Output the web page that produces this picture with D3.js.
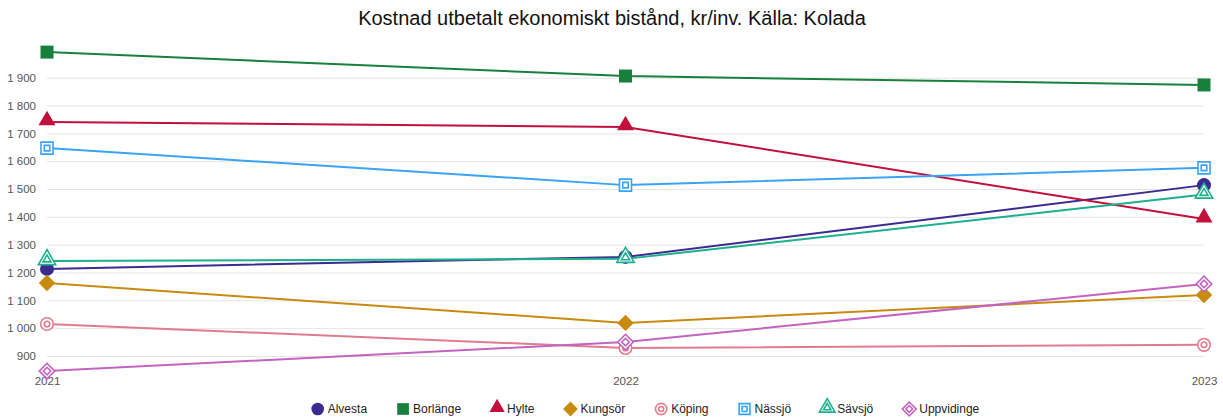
<!DOCTYPE html>
<html>
<head>
<meta charset="utf-8">
<script src="https://cdn.jsdelivr.net/npm/d3@7"></script>
<style>
  body { margin: 0; background: #fff; }
  text { font-family: Arial, "Liberation Sans", sans-serif; }
</style>
</head>
<body>
<div id="chart"></div>
<script>
// Data
const years = ["2021", "2022", "2023"];
const yTicks = [900, 1000, 1100, 1200, 1300, 1400, 1500, 1600, 1700, 1800, 1900];

const alvesta = [1213, 1256, 1514];
const borlange = [1992, 1906, 1874];
const hylte = [1741, 1723, 1392];
const kungsor = [1162, 1019, 1119];
const koping = [1015, 929, 940];
const nassjo = [1647, 1514, 1576];
const savsjo = [1241, 1249, 1480];
const uppvidinge = [846, 950, 1159];

const seriesNames = ["Alvesta", "Borlänge", "Hylte", "Kungsör", "Köping", "Nässjö", "Sävsjö", "Uppvidinge"];
const seriesValues = [alvesta, borlange, hylte, kungsor, koping, nassjo, savsjo, uppvidinge];
const seriesColors = ["#3b2a8f", "#17803a", "#c20f3c", "#c98a10", "#e07b8d", "#3aa3f5", "#1fae8e", "#c264c0"];
const seriesShapes = ["circle", "square", "triangle", "diamond", "ring", "hsquare", "htriangle", "hdiamond"];

const title = "Kostnad utbetalt ekonomiskt bistånd, kr/inv. Källa: Kolada";

// Layout
const svgWidth = 1223;
const svgHeight = 420;

const svg = d3.select("#chart")
  .append("svg")
  .attr("width", svgWidth)
  .attr("height", svgHeight);

const xScale = d3.scalePoint()
  .domain(years)
  .range([47, 1204]);

const yScale = d3.scaleLinear()
  .domain([900, 1900])
  .range([356, 77.7]);

const sv = d3.formatLocale({ decimal: ",", thousands: " ", grouping: [3], currency: ["", " kr"] });
const fmt = sv.format(",");

// title
svg.append("text")
  .attr("x", 612)
  .attr("y", 25)
  .attr("text-anchor", "middle")
  .attr("font-size", 20)
  .attr("fill", "#111")
  .text(title);

// y axis with gridlines
const yAxis = svg.append("g")
  .attr("transform", `translate(${xScale.range()[0]}, 0)`)
  .call(d3.axisLeft(yScale)
    .tickValues(yTicks)
    .tickSize(-(xScale.range()[1] - xScale.range()[0]))
    .tickPadding(11)
    .tickFormat(fmt));
yAxis.select(".domain").remove();
yAxis.selectAll(".tick line").attr("stroke", "#e4e4e4").attr("stroke-width", 1);
yAxis.selectAll(".tick text")
  .attr("fill", "#555")
  .attr("font-size", 11.5)
  .attr("font-family", "Arial, 'Liberation Sans', sans-serif");

// x axis labels
const xAxis = svg.append("g")
  .attr("transform", "translate(0, 377)")
  .call(d3.axisBottom(xScale).tickSize(0).tickPadding(0));
xAxis.select(".domain").remove();
xAxis.selectAll(".tick text")
  .attr("fill", "#555")
  .attr("font-size", 11.5)
  .attr("font-family", "Arial, 'Liberation Sans', sans-serif");

// marker drawing
function drawMarker(g, shape, color, scale) {
  const k = scale || 1;
  const sym = (type, size) => d3.symbol().type(type).size(size * k * k)();
  if (shape === "circle") {
    g.append("circle").attr("r", 7 * k).attr("fill", color);
  } else if (shape === "square") {
    g.append("path").attr("d", sym(d3.symbolSquare, 169)).attr("fill", color);
  } else if (shape === "triangle") {
    g.append("path").attr("d", sym(d3.symbolTriangle, 125))
      .attr("transform", `translate(0, ${-1.5 * k})`).attr("fill", color);
  } else if (shape === "diamond") {
    g.append("path").attr("d", sym(d3.symbolSquare, 135))
      .attr("transform", "rotate(45)").attr("fill", color);
  } else if (shape === "ring") {
    g.append("circle").attr("r", 6.3 * k).attr("fill", "#fff").attr("stroke", color).attr("stroke-width", 1.6);
    g.append("circle").attr("r", 2.8 * k).attr("fill", "none").attr("stroke", color).attr("stroke-width", 1.6);
  } else if (shape === "hsquare") {
    g.append("path").attr("d", sym(d3.symbolSquare, 144)).attr("fill", "#fff").attr("stroke", color).attr("stroke-width", 1.6);
    g.append("path").attr("d", sym(d3.symbolSquare, 30)).attr("fill", "none").attr("stroke", color).attr("stroke-width", 1.6);
  } else if (shape === "htriangle") {
    const t = g.append("g").attr("transform", `translate(0, ${-1.5 * k})`);
    t.append("path").attr("d", sym(d3.symbolTriangle, 130)).attr("fill", "#fff").attr("stroke", color).attr("stroke-width", 1.6);
    t.append("path").attr("d", sym(d3.symbolTriangle, 28)).attr("fill", "none").attr("stroke", color).attr("stroke-width", 1.6);
  } else if (shape === "hdiamond") {
    const t = g.append("g").attr("transform", "rotate(45)");
    t.append("path").attr("d", sym(d3.symbolSquare, 120)).attr("fill", "#fff").attr("stroke", color).attr("stroke-width", 1.6);
    t.append("path").attr("d", sym(d3.symbolSquare, 28)).attr("fill", "none").attr("stroke", color).attr("stroke-width", 1.6);
  }
}

// lines
const line = d3.line()
  .x((d, i) => xScale(years[i]))
  .y(d => yScale(d));

const linesGroup = svg.append("g");
seriesValues.forEach((vals, s) => {
  linesGroup.append("path")
    .datum(vals)
    .attr("d", line)
    .attr("fill", "none")
    .attr("stroke", seriesColors[s])
    .attr("stroke-width", 2);
});

// markers
const markersGroup = svg.append("g");
seriesValues.forEach((vals, s) => {
  vals.forEach((v, i) => {
    const g = markersGroup.append("g")
      .attr("transform", `translate(${xScale(years[i])}, ${yScale(v)})`);
    drawMarker(g, seriesShapes[s], seriesColors[s]);
  });
});

// legend
const legend = svg.append("g").attr("transform", "translate(0, 409)");
const items = [];
seriesNames.forEach((name, s) => {
  const g = legend.append("g");
  drawMarker(g, seriesShapes[s], seriesColors[s], 0.9);
  const t = g.append("text")
    .attr("x", 10)
    .attr("y", 4)
    .attr("font-size", 12)
    .attr("fill", "#222")
    .text(name);
  items.push({ g: g, w: 10 + t.node().getComputedTextLength() });
});
const gap = 36;
const total = d3.sum(items, d => d.w) + gap * (items.length - 1) + 7;
let cx = 645 - total / 2 + 7;
items.forEach(d => {
  d.g.attr("transform", `translate(${cx}, 0)`);
  cx += d.w + gap;
});
</script>
</body>
</html>
